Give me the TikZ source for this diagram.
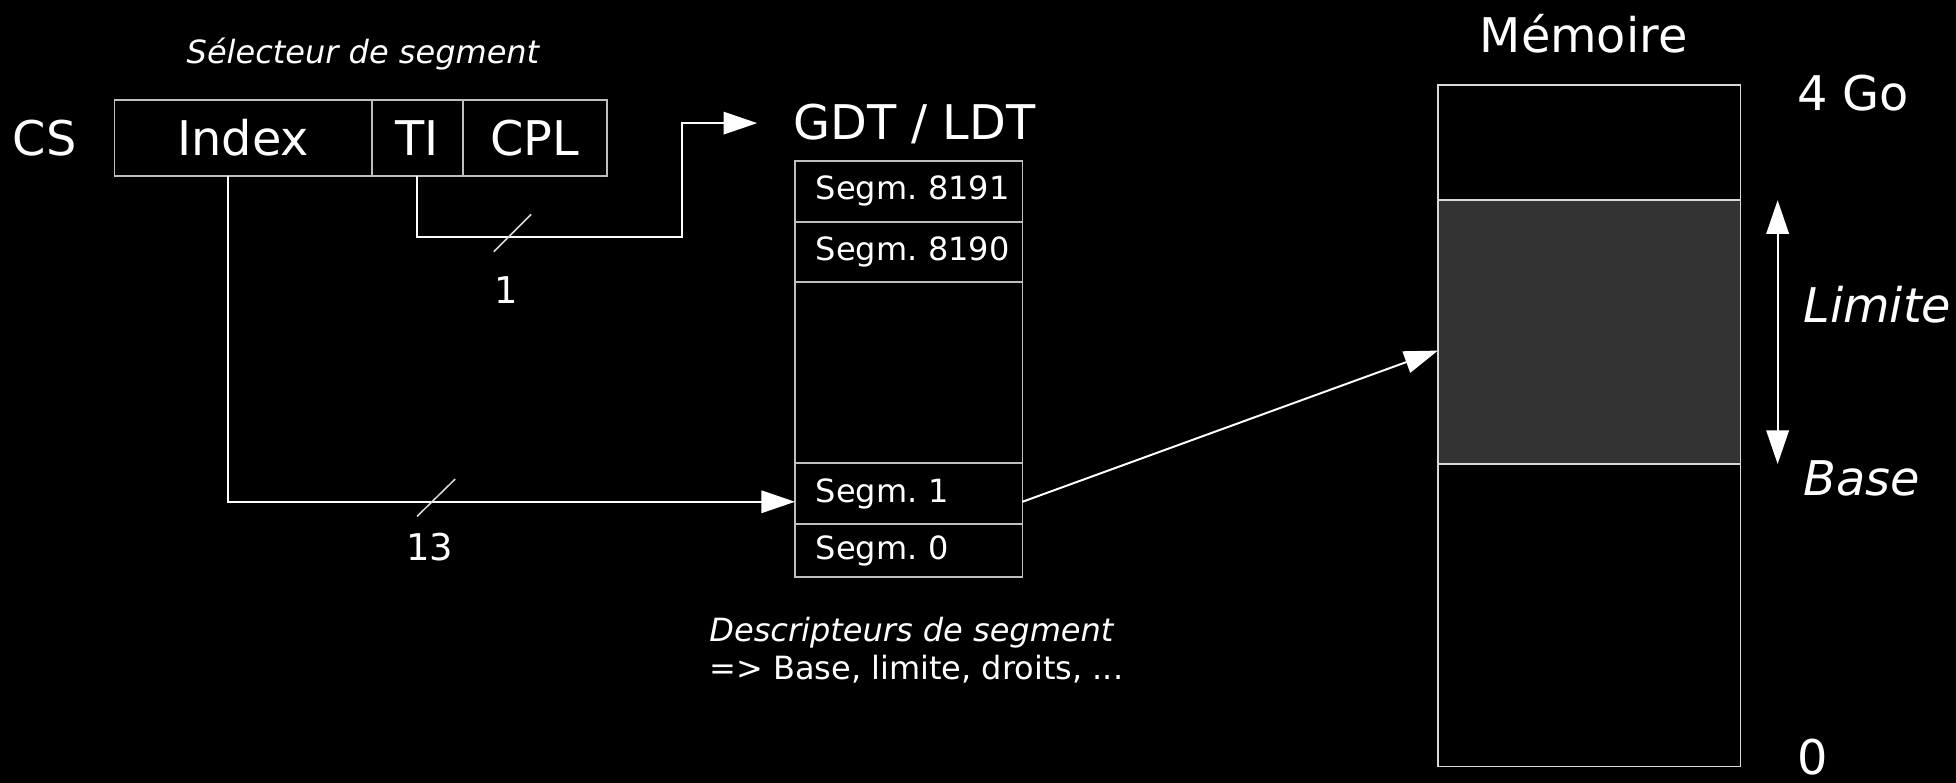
\documentclass[tikz,border=0pt]{standalone}
\usepackage{fontspec}
\setmainfont{DejaVu Sans}
\usetikzlibrary{positioning, arrows.meta, calc}

\definecolor{boxline}{HTML}{BEBEBE}
\definecolor{memline}{HTML}{D8D8D8}
\definecolor{segfill}{HTML}{333333}

\begin{document}
\begin{tikzpicture}[
  >={Triangle[length=0.27cm, width=0.18cm]},
  lbl/.style={white, inner sep=0pt},
  big/.style={font=\fontsize{10.9}{13}\selectfont},
  bigit/.style={font=\fontsize{10.9}{13}\selectfont\itshape},
  small/.style={font=\fontsize{7.3}{8.8}\selectfont},
  smallit/.style={font=\fontsize{7.3}{8.8}\selectfont\itshape},
  digits/.style={font=\fontsize{8.4}{10}\selectfont},
  field/.style={draw=boxline, text=white, big, inner sep=0pt, outer sep=0pt, minimum height=0.606cm},
  gdtrow/.style={draw=boxline, text=white, small, inner ysep=0pt, inner xsep=0.166cm, outer sep=0pt, text width=1.491cm, align=left},
  memzone/.style={draw=memline, minimum width=2.425cm, inner sep=0pt, outer sep=0pt},
  arr/.style={white, line width=0.45pt, ->},
  tick/.style={white!85!black, line width=0.35pt},
]

%--- Page size first, then a background a bit larger than it
\useasboundingbox (0,0) rectangle (15.68,6.27);
\fill[black] (-0.1,-0.1) rectangle (15.78,6.37);

%=== SEGMENT SELECTOR ===
\node[lbl, smallit, anchor=base] (selhead) at (2.91,5.762) {Sélecteur de segment};
\node[lbl, big, anchor=base] (cs) at (0.358,5.027) {CS};
\node[field, minimum width=2.062cm] (index) at (1.949,5.165) {Index};
\node[field, minimum width=0.729cm, right=0pt of index] (ti) {TI};
\node[field, minimum width=1.154cm, right=0pt of ti] (cpl) {CPL};

%=== DESCRIPTOR TABLE ===
\node[lbl, big, anchor=base] (gdt) at (7.33,5.148) {GDT / LDT};
\node[gdtrow, minimum height=0.486cm] (s8191) at (7.2845,4.736) {Segm.~8191};
\node[gdtrow, minimum height=0.484cm, below=0pt of s8191] (s8190) {Segm.~8190};
\node[gdtrow, minimum height=1.453cm, below=0pt of s8190] (sdots) {};
\node[gdtrow, minimum height=0.487cm, below=0pt of sdots] (s1) {Segm.~1};
\node[gdtrow, minimum height=0.427cm, below=0pt of s1] (s0) {Segm.~0};

\node[lbl, smallit, anchor=base west] (desc1) at (5.68,1.13) {Descripteurs de segment};
\node[lbl, small, anchor=base west] (desc2) at (5.68,0.826) {=> Base, limite, droits, ...};

%=== MEMORY ===
\node[lbl, big, anchor=base] (mem) at (12.695,5.849) {Mémoire};
\node[memzone, minimum height=0.924cm] (memtop) at (12.7395,5.127) {};
\node[memzone, minimum height=2.115cm, fill=segfill, below=0pt of memtop] (segzone) {};
\node[memzone, minimum height=2.425cm, below=0pt of segzone] (membot) {};

\node[lbl, big, anchor=base west] (top4) at (14.40,5.388) {4 Go};
\node[lbl, big, anchor=base west] (zero) at (14.40,0.06) {0};
\node[lbl, bigit, anchor=base west] (llimit) at (14.45,3.685) {Limite};
\node[lbl, bigit, anchor=base west] (lbase) at (14.45,2.294) {Base};

%--- Connectors
\coordinate (tibend) at (5.465,4.373);
\coordinate (gdtin) at (6.07,5.283);
\coordinate (s1in) at ([yshift=-0.065cm]s1.west);
\coordinate (s1out) at ([yshift=-0.065cm]s1.east);
\coordinate (memhit) at ([yshift=-0.148cm]segzone.west);

\draw[arr] (ti.south) |- (tibend) |- (gdtin);
\draw[arr] ([xshift=-0.124cm]index.south) |- (s1in);
\draw[arr] (s1out) -- (memhit);
\draw[arr, <->] ($(segzone.north east)+(0.298,0)$) -- ($(segzone.south east)+(0.298,0)$);

%--- Bus width marks
\draw[tick] (3.958,4.252) -- (4.258,4.552);
\draw[tick] (3.343,2.13) -- (3.649,2.43);
\node[lbl, digits, anchor=base] (w1) at (4.055,3.833) {1};
\node[lbl, digits, anchor=base] (w13) at (3.447,1.78) {13};

\end{tikzpicture}
\end{document}
